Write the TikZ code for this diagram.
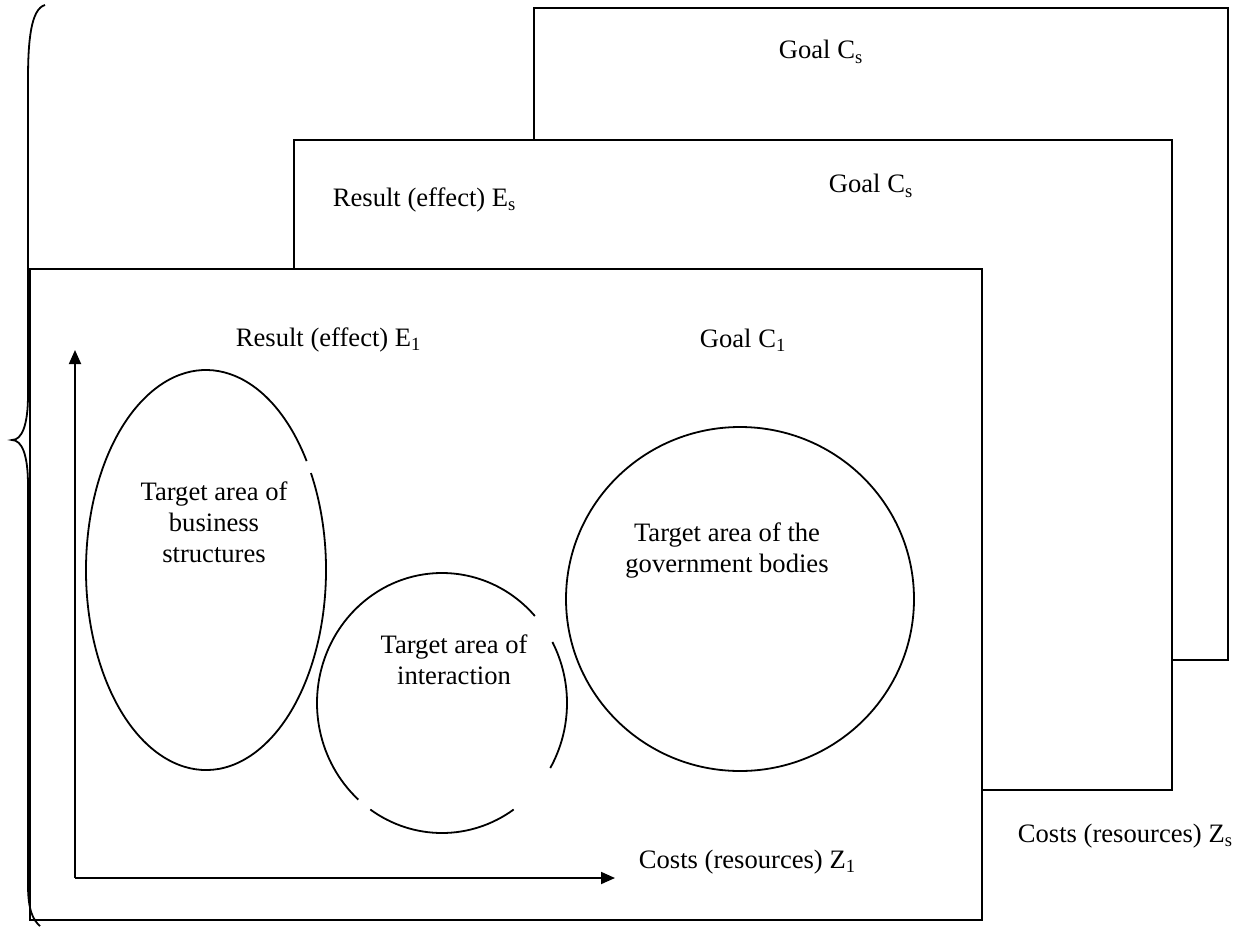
\documentclass[tikz,border=0pt]{standalone}
\usepackage{fontspec}
\setmainfont{Liberation Serif}
\usetikzlibrary{arrows.meta}
\tikzset{lbl/.style={font=\fontsize{13.3}{15.5}\selectfont, align=center, inner sep=1pt}}
\begin{document}
\begin{tikzpicture}[x=0.5pt, y=-0.5pt, line width=0.9pt]
			\useasboundingbox (0,0) rectangle (1241,926);
			\draw (534,140)--(534,8)--(1228,8)--(1228,660)--(1172,660);
			\draw (294,269)--(294,140)--(1172,140)--(1172,790)--(982,790);
			\draw (30,269) rectangle (982,920);
			\draw (45,5) .. controls (31,9) and (28,40) .. (28,80)--(28,395) .. controls (28,425) and (22,440) .. (12,440) .. controls (22,440) and (28,455) .. (28,485)--(28,885) .. controls (28,910) and (33,920) .. (40,926);
			\coordinate (o) at (75,878);
			\coordinate (ytop) at (75,350);
			\coordinate (xend) at (615,878);
			\draw[-{Triangle[length=7pt, width=6pt]}] (o)--(ytop);
			\draw[-{Triangle[length=7pt, width=6pt]}] (o)--(xend);
			\coordinate (cbus) at (206,570);
			\coordinate (cint) at (442,703);
			\coordinate (cgov) at (740,599);
			\draw (cbus) ++(-29:120 and 200) arc[start angle=-29, end angle=327, x radius=120, y radius=200];
			\draw (cint) ++(-42:125 and 130) arc[start angle=-42, end angle=-228, x radius=125, y radius=130];
			\draw (cint) ++(-235:125 and 130) arc[start angle=-235, end angle=-305, x radius=125, y radius=130];
			\draw (cint) ++(-330:125 and 130) arc[start angle=-330, end angle=-388, x radius=125, y radius=130];
			\draw (cgov) ellipse[x radius=174, y radius=172];
			\node[lbl, anchor=west] (goalback) at (776,52) {Goal C\textsubscript{s}};
			\node[lbl, anchor=west] (goalmid) at (826,186) {Goal C\textsubscript{s}};
			\node[lbl, anchor=west] (resmid) at (330,200) {Result (effect) E\textsubscript{s}};
			\node[lbl, anchor=west] (resfront) at (233,340) {Result (effect) E\textsubscript{1}};
			\node[lbl, anchor=west] (goalfront) at (697,340) {Goal C\textsubscript{1}};
			\node[lbl] (busi) at (214,522) {Target area of\\business\\structures};
			\node[lbl] (inter) at (454,660) {Target area of\\interaction};
			\node[lbl] (gov) at (727,550) {Target area of the\\government bodies};
			\node[lbl, anchor=west] (costfront) at (636,862) {Costs (resources) Z\textsubscript{1}};
			\node[lbl, anchor=west] (costback) at (1015,836) {Costs (resources) Z\textsubscript{s}};
		\end{tikzpicture}
\end{document}
